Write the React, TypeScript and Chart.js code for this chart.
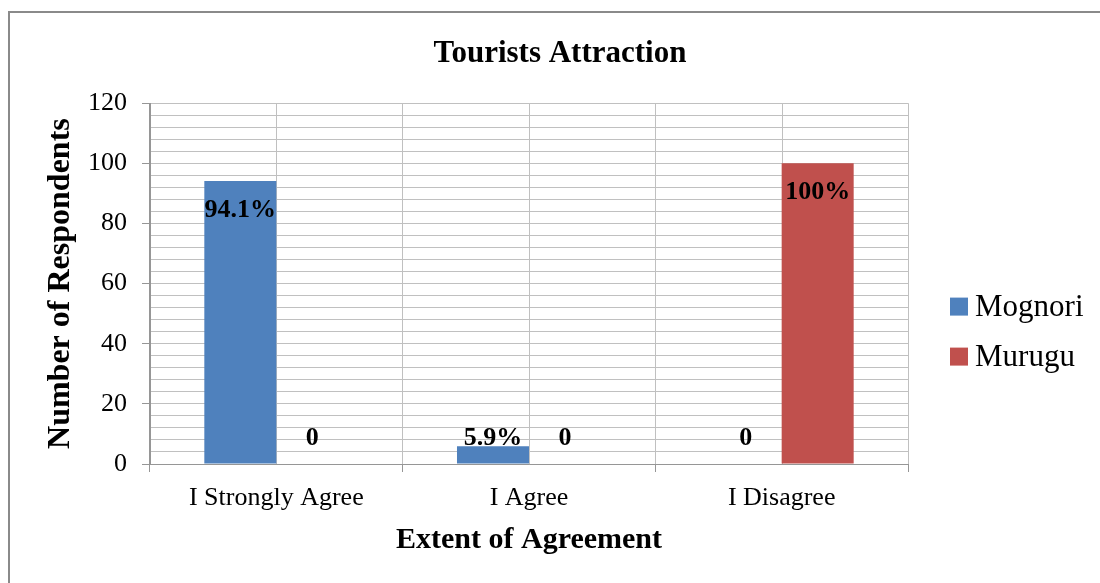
import React, { useEffect, useRef } from 'react';
import { Chart, registerables } from 'chart.js';

Chart.register(...registerables);

const categories = ['I Strongly Agree', 'I Agree', 'I Disagree'];
const seriesNames = ['Mognori', 'Murugu'];
const mognoriValues = [94.1, 5.9, 0];
const muruguValues = [0, 0, 100];
const mognoriLabels = ['94.1%', '5.9%', '0'];
const muruguLabels = ['0', '0', '100%'];
const yMin = 0;
const yMax = 120;
const yGridStep = 4;
const yLabelStep = 20;

const SERIF = "'Liberation Serif', 'Times New Roman', serif";
const GRID = '#c0c0c0';
const AXIS = '#969696';
const COLORS = ['#4F81BD', '#C0504D'];

const centerLinesPlugin = {
  id: 'centerLines',
  beforeDatasetsDraw(chart: any) {
    const { ctx, chartArea } = chart;
    const xs = chart.scales.x;
    ctx.save();
    ctx.strokeStyle = GRID;
    ctx.lineWidth = 1;
    categories.forEach((_, i) => {
      const px = Math.round(xs.getPixelForValue(i)) + 0.5;
      ctx.beginPath();
      ctx.moveTo(px, chartArea.top);
      ctx.lineTo(px, chartArea.bottom);
      ctx.stroke();
    });
    ctx.restore();
  },
};

const valueLabelsPlugin = {
  id: 'valueLabels',
  afterDatasetsDraw(chart: any) {
    const { ctx } = chart;
    const ys = chart.scales.y;
    ctx.save();
    ctx.font = `bold 26px ${SERIF}`;
    ctx.fillStyle = '#000';
    ctx.textAlign = 'center';
    ctx.textBaseline = 'middle';
    chart.data.datasets.forEach((ds: any, di: number) => {
      const meta = chart.getDatasetMeta(di);
      meta.data.forEach((bar: any, i: number) => {
        const v = ds.data[i];
        const y = v > 20 ? bar.y + 29 : ys.getPixelForValue(8.5);
        ctx.fillText(ds.valueLabels[i], bar.x, y);
      });
    });
    ctx.restore();
  },
};

const sideLegendPlugin = {
  id: 'sideLegend',
  afterDraw(chart: any) {
    const { ctx, chartArea } = chart;
    const mid = (chartArea.top + chartArea.bottom) / 2 + 48;
    ctx.save();
    ctx.font = `31px ${SERIF}`;
    ctx.textAlign = 'left';
    ctx.textBaseline = 'middle';
    chart.data.datasets.forEach((ds: any, di: number) => {
      const yc = mid + (di - 0.5) * 50;
      ctx.fillStyle = ds.backgroundColor;
      ctx.fillRect(chartArea.right + 42, yc - 9, 18, 18);
      ctx.fillStyle = '#000';
      ctx.fillText(ds.label, chartArea.right + 67, yc + 1);
    });
    ctx.restore();
  },
};

export default function App() {
  const canvasRef = useRef<HTMLCanvasElement | null>(null);

  useEffect(() => {
    if (!canvasRef.current) return;
    const chart = new Chart(canvasRef.current, {
      type: 'bar',
      data: {
        labels: categories,
        datasets: [
          {
            label: seriesNames[0],
            data: mognoriValues,
            backgroundColor: COLORS[0],
            valueLabels: mognoriLabels,
            categoryPercentage: 0.57,
            barPercentage: 1,
          } as any,
          {
            label: seriesNames[1],
            data: muruguValues,
            backgroundColor: COLORS[1],
            valueLabels: muruguLabels,
            categoryPercentage: 0.57,
            barPercentage: 1,
          } as any,
        ],
      },
      options: {
        animation: false,
        responsive: false,
        layout: { padding: { left: 20, right: 0, top: 0, bottom: 0 } },
        plugins: {
          legend: { display: false },
          tooltip: { enabled: false },
          title: {
            display: true,
            text: 'Tourists Attraction',
            color: '#000',
            font: { family: SERIF, size: 31, weight: 'bold' },
            padding: { top: 35, bottom: 31 },
          },
        },
        scales: {
          x: {
            offset: true,
            grid: {
              offset: true,
              color: (c: any) => (c.index === 0 ? AXIS : GRID),
              tickColor: AXIS,
              tickLength: 8,
            },
            border: { color: AXIS },
            ticks: {
              color: '#000',
              font: { family: SERIF, size: 26 },
              padding: 11,
              maxRotation: 0,
              autoSkip: false,
            },
            title: {
              display: true,
              text: 'Extent of Agreement',
              color: '#000',
              font: { family: SERIF, size: 30, weight: 'bold' },
              padding: { top: 0, bottom: 25 },
            },
            afterFit: (s: any) => {
              s.height = 119;
            },
          },
          y: {
            min: yMin,
            max: yMax,
            grid: {
              color: (c: any) => (c.tick && c.tick.value === 0 ? AXIS : GRID),
              tickColor: (c: any) =>
                c.tick && c.tick.value % yLabelStep === 0 ? AXIS : 'rgba(0,0,0,0)',
              tickLength: 8,
            },
            border: { color: AXIS },
            ticks: {
              stepSize: yGridStep,
              autoSkip: false,
              color: '#000',
              font: { family: SERIF, size: 26 },
              padding: 15,
              callback: (v: any) => (Number(v) % yLabelStep === 0 ? String(v) : ''),
            },
            title: {
              display: true,
              text: 'Number of Respondents',
              color: '#000',
              font: { family: SERIF, size: 32, weight: 'bold' },
              padding: { top: 22, bottom: 0 },
            },
            afterFit: (s: any) => {
              s.width = 130;
            },
          },
          y2: {
            position: 'right',
            display: true,
            grid: { display: false, drawTicks: false },
            border: { display: false },
            ticks: { display: false },
            afterFit: (s: any) => {
              s.width = 192;
            },
          },
        },
      } as any,
      plugins: [centerLinesPlugin, valueLabelsPlugin, sideLegendPlugin],
    });
    return () => chart.destroy();
  }, []);

  return (
    <div style={{ position: 'fixed', left: 0, top: 0, width: 1100, height: 583, background: '#fff', overflow: 'hidden' }}>
      <div
        style={{
          position: 'absolute',
          left: 8,
          top: 11,
          width: 1092,
          height: 572,
          borderTop: '2px solid #8a8a8a',
          borderLeft: '2px solid #8a8a8a',
          boxSizing: 'border-box',
        }}
      />
      <canvas ref={canvasRef} width={1100} height={583} style={{ position: 'absolute', left: 0, top: 0 }} />
    </div>
  );
}
